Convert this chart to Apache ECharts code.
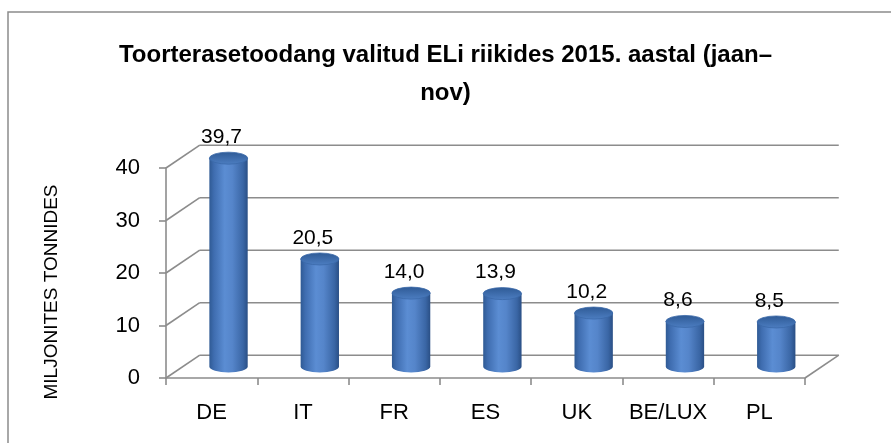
<!DOCTYPE html>
<html>
<head>
<meta charset="utf-8">
<script src="https://cdn.jsdelivr.net/npm/echarts@6/dist/echarts.min.js"></script>
<style>
html,body{margin:0;padding:0;background:#fff;}
#chart{width:891px;height:443px;}
</style>
</head>
<body>
<div id="chart"></div>
<script>
// ---- data ----
const categories = ['DE', 'IT', 'FR', 'ES', 'UK', 'BE/LUX', 'PL'];
const values = [39.7, 20.5, 14.0, 13.9, 10.2, 8.6, 8.5];
const yTicks = [0, 10, 20, 30, 40];
const titleText = 'Toorterasetoodang valitud ELi riikides 2015. aastal (jaan–\nnov)';
const yAxisName = 'MILJONITES TONNIDES';

// ---- style constants ----
const FONT = 'Liberation Sans, Arial, sans-serif';
const DEPTH_X = 0.37;   // depth offset as fraction of category band width
const DEPTH_Y = -0.25;
const GRID_COLOR = '#8c8c8c';

const chart = echarts.init(document.getElementById('chart'));

function fmt(v) { return v.toFixed(1).replace('.', ','); }

function wallItem(params, api) {
  const v = api.value(0);
  const bw = api.size([1, 0])[0];
  const dx = bw * DEPTH_X, dy = bw * DEPTH_Y;
  const first = api.coord([0, v]);
  const last = api.coord([categories.length - 1, v]);
  const x0 = first[0] - bw / 2, x1 = last[0] + bw / 2, y = first[1];
  const children = [
    { type: 'line', shape: { x1: x0, y1: y, x2: x0 + dx, y2: y + dy },
      style: { stroke: GRID_COLOR, lineWidth: 1.6 } },
    { type: 'line', shape: { x1: x0 + dx, y1: y + dy, x2: x1 + dx, y2: y + dy },
      style: { stroke: GRID_COLOR, lineWidth: 1.6 } }
  ];
  if (v === yTicks[0]) {
    children.push({ type: 'line', shape: { x1: x1, y1: y, x2: x1 + dx, y2: y + dy },
      style: { stroke: GRID_COLOR, lineWidth: 1.6 } });
  }
  return { type: 'group', children: children };
}

function cylItem(params, api) {
  const i = api.value(0), v = api.value(1);
  const bw = api.size([1, 0])[0];
  const dx = bw * DEPTH_X, dy = bw * DEPTH_Y;
  const base = api.coord([i, 0]);
  const top = api.coord([i, v]);
  const cx = base[0] + dx / 2;
  const by = base[1] + dy / 2;
  const ty = top[1] + dy / 2;
  const rx = bw * 0.21, ry = 6;
  const bodyPath = 'M' + (cx - rx) + ' ' + ty + ' L' + (cx - rx) + ' ' + by +
    ' A' + rx + ' ' + ry + ' 0 0 0 ' + (cx + rx) + ' ' + by +
    ' L' + (cx + rx) + ' ' + ty + ' Z';
  const topPath = 'M' + (cx - rx) + ' ' + ty +
    ' A' + rx + ' ' + ry + ' 0 0 1 ' + (cx + rx) + ' ' + ty +
    ' A' + rx + ' ' + ry + ' 0 0 1 ' + (cx - rx) + ' ' + ty + ' Z';
  return {
    type: 'group',
    children: [
      { type: 'path', shape: { pathData: bodyPath },
        style: { fill: new echarts.graphic.LinearGradient(0, 0, 1, 0, [
          { offset: 0, color: '#2f5a94' },
          { offset: 0.12, color: '#3f6db0' },
          { offset: 0.4, color: '#5b8dd3' },
          { offset: 0.6, color: '#5585ca' },
          { offset: 0.88, color: '#3a66a5' },
          { offset: 1, color: '#2a4f85' }
        ]), stroke: null } },
      { type: 'path', shape: { pathData: topPath },
        style: { fill: new echarts.graphic.LinearGradient(0, 0, 0, 1, [
          { offset: 0, color: '#2e5a95' },
          { offset: 1, color: '#4d7ec2' }
        ]), stroke: '#3a68a8', lineWidth: 0.8 } },
      { type: 'text', style: { text: fmt(v), x: cx - 7, y: ty - ry - 15,
        align: 'center', verticalAlign: 'middle',
        font: '21px ' + FONT, fill: '#000' } }
    ]
  };
}

chart.setOption({
  animation: false,
  backgroundColor: '#fff',
  title: {
    text: titleText,
    left: 'center',
    top: 31,
    textStyle: { fontFamily: FONT, fontWeight: 'bold', fontSize: 24, lineHeight: 38, color: '#000' }
  },
  graphic: [
    { type: 'rect', shape: { x: 8, y: 12, width: 900, height: 460 },
      style: { fill: null, stroke: '#8c8c8c', lineWidth: 1.5 }, silent: true, z: -1 },
    { type: 'text', x: 52, y: 292, rotation: Math.PI / 2,
      style: { text: yAxisName, align: 'center', verticalAlign: 'middle',
        font: '19px ' + FONT, fill: '#000' } }
  ],
  grid: { left: 166, right: 86, top: 168, bottom: 65 },
  xAxis: {
    type: 'category',
    data: categories,
    axisLine: { lineStyle: { color: GRID_COLOR, width: 1.6 } },
    axisTick: { show: true, interval: 0, length: 7, lineStyle: { color: GRID_COLOR, width: 1.6 } },
    axisLabel: { interval: 0, margin: 24, fontFamily: FONT, fontSize: 22, color: '#000' }
  },
  yAxis: {
    type: 'value',
    min: 0, max: 40, interval: 10,
    axisLine: { show: true, lineStyle: { color: GRID_COLOR, width: 1.6 } },
    axisTick: { show: true, length: 7, lineStyle: { color: GRID_COLOR, width: 1.6 } },
    splitLine: { show: false },
    axisLabel: { margin: 26, fontFamily: FONT, fontSize: 22, color: '#000' }
  },
  series: [
    { type: 'custom', renderItem: wallItem, data: yTicks.map(v => [v]),
      encode: { y: 0 }, z: 1, silent: true },
    { type: 'custom', renderItem: cylItem,
      data: values.map((v, i) => [i, v]), encode: { x: 0, y: 1 }, z: 3 }
  ]
});
</script>
</body>
</html>
